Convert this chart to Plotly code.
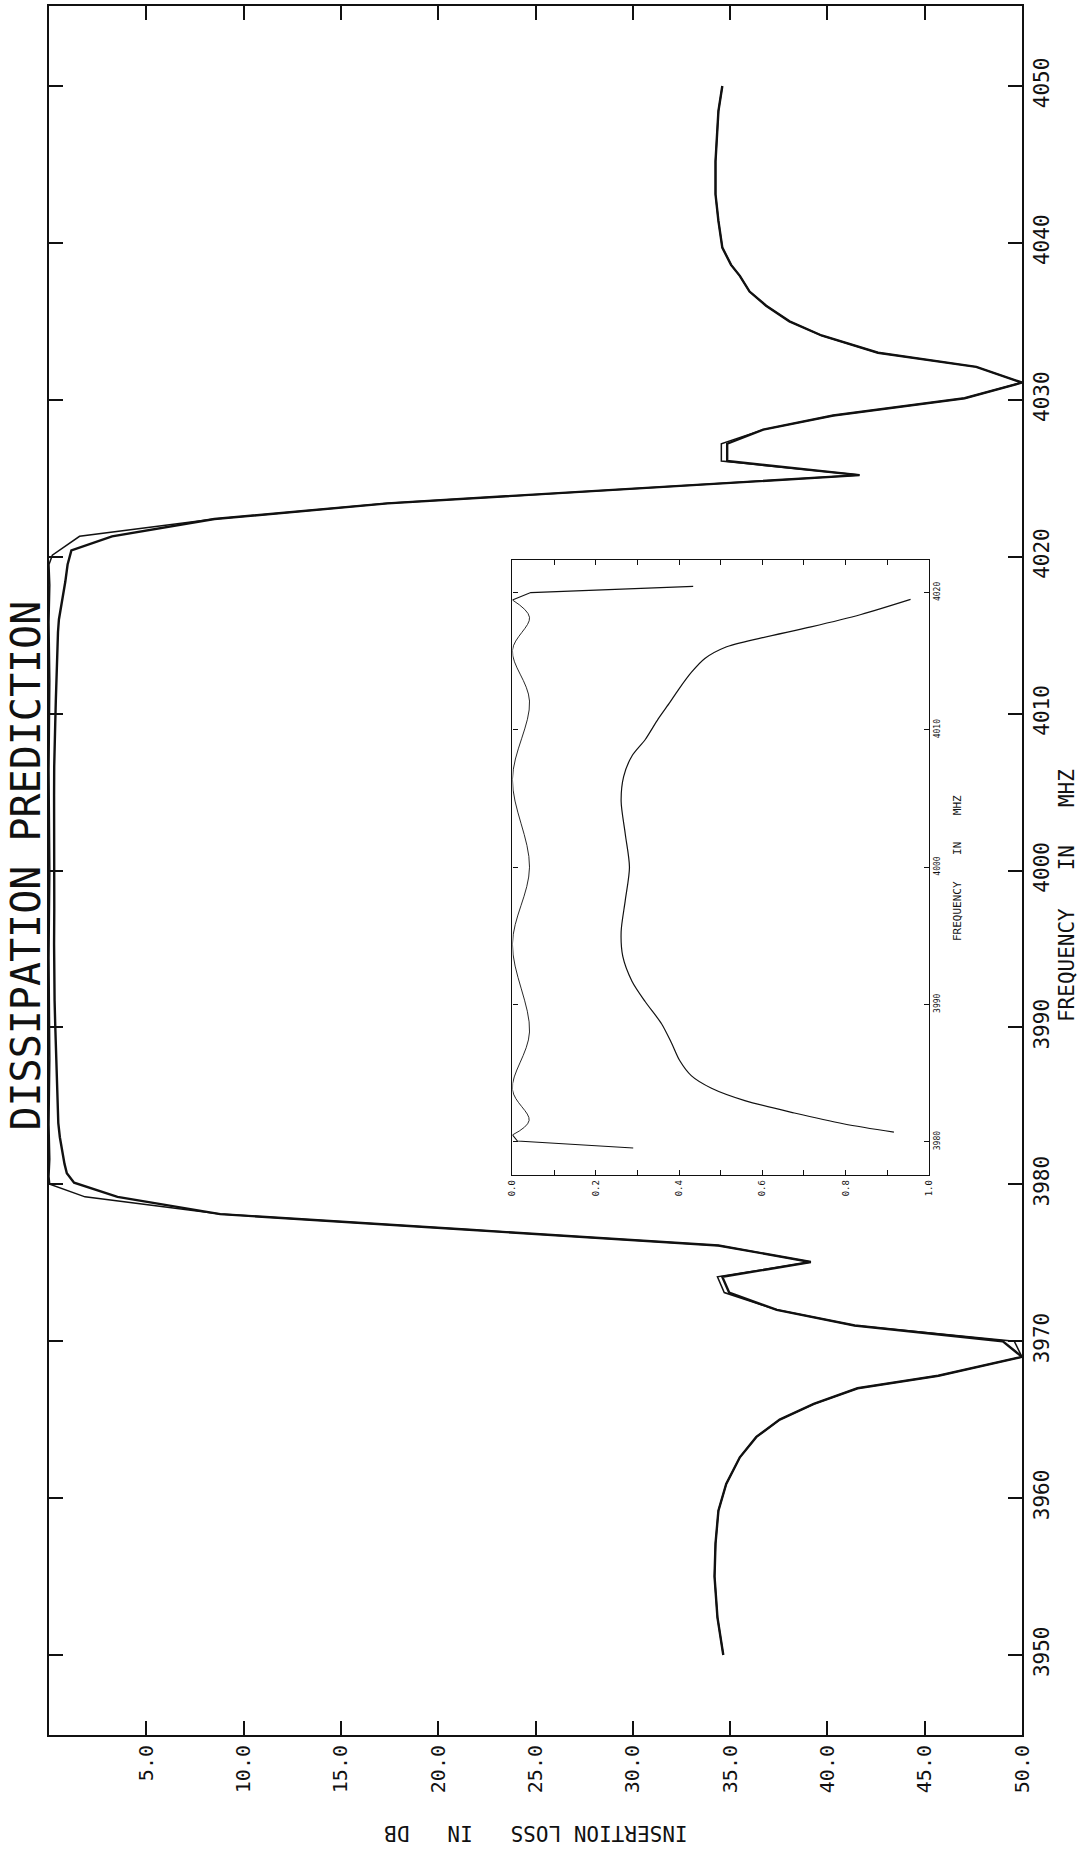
import plotly.graph_objects as go

# ---------------- main chart data (frequency in MHz, insertion loss in dB) ----------------
lossless_freq = [4050.0, 4048.4, 4045.2, 4043.1, 4041.4, 4039.7, 4038.6, 4037.9, 4036.9, 4036.0,
                 4035.0, 4034.1, 4033.0, 4032.1, 4031.1, 4030.1, 4029.0, 4028.1, 4027.2, 4026.1,
                 4025.2, 4023.4, 4022.4, 4021.3, 4020.1,
                 4019.5, 4018.2, 4015.8, 4012.1, 4006.4, 4000.0, 3994.4, 3988.0, 3983.8, 3981.6, 3980.5,
                 3980.0, 3979.2, 3978.1, 3977.1, 3976.1, 3975.05, 3974.1, 3973.1, 3972.0, 3971.0,
                 3970.0, 3969.0, 3967.8, 3967.0, 3966.0, 3965.0, 3963.9, 3962.6, 3960.9, 3959.2,
                 3957.1, 3955.0, 3952.4, 3950.0]
lossless_db = [34.6, 34.4, 34.25, 34.25, 34.4, 34.6, 35.05, 35.5, 36.0, 36.85,
               38.05, 39.7, 42.6, 47.65, 50.0, 47.05, 40.3, 36.7, 34.55, 34.55,
               41.65, 17.4, 8.5, 1.57, 0.17,
               0.0, 0.041, 0.0, 0.041, 0.0, 0.041, 0.0, 0.041, 0.0, 0.04, 0.0,
               0.04, 1.85, 8.8, 21.6, 34.4, 39.15, 34.35, 34.7, 37.4, 41.4,
               49.6, 50.0, 45.7, 41.55, 39.3, 37.55, 36.35, 35.5, 34.8, 34.4,
               34.25, 34.2, 34.35, 34.65]

dissip_freq = [4050.0, 4048.4, 4045.2, 4043.1, 4041.4, 4039.7, 4038.6, 4037.9, 4036.9, 4036.0,
               4035.0, 4034.1, 4033.0, 4032.1, 4031.1, 4030.1, 4029.0, 4028.1, 4027.2, 4026.1,
               4025.2, 4023.4, 4022.4, 4021.3, 4020.4,
               4019.5, 4018.4, 4017.5, 4016.7, 4016.0, 4015.2, 4014.2, 4012.9, 4012.0, 4010.8,
               4009.3, 4008.1, 4006.6, 4004.8, 4002.4, 4000.0, 3997.6, 3995.3, 3993.5, 3991.7,
               3990.2, 3988.6, 3987.2, 3985.9, 3984.8, 3983.9, 3983.0, 3982.1, 3981.3, 3980.7,
               3980.1, 3979.2, 3978.1, 3977.1, 3976.1, 3975.05, 3974.1, 3973.1, 3972.0, 3971.0,
               3970.0, 3969.0, 3967.8, 3967.0, 3966.0, 3965.0, 3963.9, 3962.6, 3960.9, 3959.2,
               3957.1, 3955.0, 3952.4, 3950.0]
dissip_db = [34.6, 34.4, 34.25, 34.25, 34.4, 34.6, 35.05, 35.5, 36.0, 36.85,
             38.05, 39.7, 42.6, 47.65, 50.0, 47.05, 40.3, 36.7, 34.85, 34.85,
             41.65, 17.4, 8.5, 3.24, 1.15,
             0.956, 0.837, 0.717, 0.598, 0.51, 0.462, 0.43, 0.398, 0.378, 0.35,
             0.319, 0.287, 0.267, 0.261, 0.271, 0.281, 0.271, 0.261, 0.265, 0.287,
             0.319, 0.358, 0.382, 0.402, 0.43, 0.478, 0.558, 0.677, 0.797, 0.916,
             1.29, 3.52, 8.8, 21.6, 34.4, 39.15, 34.6, 34.95, 37.4, 41.4,
             49.0, 50.0, 45.7, 41.55, 39.3, 37.55, 36.35, 35.5, 34.8, 34.4,
             34.25, 34.2, 34.35, 34.65]

loss_ticks = [5, 10, 15, 20, 25, 30, 35, 40, 45, 50]
loss_ticktext = ["5.0", "10.0", "15.0", "20.0", "25.0", "30.0", "35.0", "40.0", "45.0", "50.0"]
freq_ticks = [3950, 3960, 3970, 3980, 3990, 4000, 4010, 4020, 4030, 4040, 4050]

# ---------------- inset (passband detail) ----------------
inset_lossless_freq = [4020.45, 4020.0, 4019.46, 4018.2, 4015.8, 4012.1, 4006.4, 4000.0, 3994.4,
                       3988.0, 3983.8, 3981.55, 3980.5, 3980.06, 3979.55]
inset_lossless_db = [0.434, 0.044, 0.0, 0.041, 0.0, 0.041, 0.0, 0.041, 0.0,
                     0.041, 0.0, 0.04, 0.0, 0.012, 0.29]
inset_dissip_freq = dissip_freq[25:55]
inset_dissip_db = dissip_db[25:55]
inset_x_ticks = [0.0, 0.1, 0.2, 0.3, 0.4, 0.5, 0.6, 0.7, 0.8, 0.9, 1.0]
inset_x_ticktext = ["0.0", "", "0.2", "", "0.4", "", "0.6", "", "0.8", "", "1.0"]
inset_freq_ticks = [3980, 3990, 4000, 4010, 4020]

MONO = "DejaVu Sans Mono"

fig = go.Figure()
fig.add_trace(go.Scatter(x=lossless_db, y=lossless_freq, mode="lines",
                         line=dict(color="#111", width=1.5), xaxis="x", yaxis="y"))
fig.add_trace(go.Scatter(x=dissip_db, y=dissip_freq, mode="lines",
                         line=dict(color="#111", width=2.4), xaxis="x", yaxis="y"))

# inset traces
fig.add_trace(go.Scatter(x=inset_lossless_db[0:3], y=inset_lossless_freq[0:3], mode="lines",
                         line=dict(color="#111", width=1.1), xaxis="x2", yaxis="y2"))
fig.add_trace(go.Scatter(x=inset_lossless_db[2:-2], y=inset_lossless_freq[2:-2], mode="lines",
                         line=dict(color="#111", width=0.9, shape="spline", smoothing=1.0),
                         xaxis="x2", yaxis="y2"))
fig.add_trace(go.Scatter(x=inset_lossless_db[-3:], y=inset_lossless_freq[-3:], mode="lines",
                         line=dict(color="#111", width=1.1), xaxis="x2", yaxis="y2"))
fig.add_trace(go.Scatter(x=inset_dissip_db, y=inset_dissip_freq, mode="lines",
                         line=dict(color="#111", width=1.2, shape="spline", smoothing=0.8),
                         xaxis="x2", yaxis="y2"))

axis_common = dict(showgrid=False, zeroline=False, showline=True, linecolor="#111",
                   mirror="allticks", ticks="inside", tickcolor="#111")

fig.update_layout(
    width=1083, height=1849,
    margin=dict(l=49, r=60.5, t=4, b=114),
    paper_bgcolor="white", plot_bgcolor="white",
    showlegend=False, hovermode=False,
    xaxis=dict(domain=[0, 1], range=[0, 50], tickvals=loss_ticks, ticktext=loss_ticktext,
               tickangle=-90, ticklen=14, tickwidth=2, linewidth=2,
               tickfont=dict(family=MONO, size=20, color="#111"), anchor="y", **axis_common),
    yaxis=dict(domain=[0, 1], range=[3944.9, 4055.1], tickvals=freq_ticks,
               ticktext=[str(v) for v in freq_ticks], side="right", tickangle=-90,
               ticklen=14, tickwidth=2, linewidth=2,
               tickfont=dict(family=MONO, size=21, color="#111"), anchor="x", **axis_common),
    xaxis2=dict(domain=[0.4763, 0.9043], range=[0, 1], tickvals=inset_x_ticks,
                ticktext=inset_x_ticktext, tickangle=-90, ticklen=5, tickwidth=1, linewidth=1.3,
                tickfont=dict(family=MONO, size=9, color="#111"), anchor="y2", **axis_common),
    yaxis2=dict(domain=[0.3237, 0.6798], range=[3977.56, 4022.4], tickvals=inset_freq_ticks,
                ticktext=[str(v) for v in inset_freq_ticks], side="right", tickangle=-90,
                ticklen=5, tickwidth=1, linewidth=1.3,
                tickfont=dict(family=MONO, size=8, color="#111"), anchor="x2", **axis_common),
    annotations=[
        dict(text="DISSIPATION PREDICTION", xref="paper", yref="paper", x=-0.0241, y=0.5026,
             textangle=-90, showarrow=False, xanchor="center", yanchor="middle",
             font=dict(family=MONO, size=40, color="#111")),
        dict(text="FREQUENCY   IN   MHZ", xref="paper", yref="paper", x=1.0457, y=0.4855,
             textangle=-90, showarrow=False, xanchor="center", yanchor="middle",
             font=dict(family=MONO, size=21, color="#111")),
        dict(text="INSERTION LOSS   IN   DB", xref="paper", yref="paper", x=0.5003, y=-0.0566,
             textangle=180, showarrow=False, xanchor="center", yanchor="middle",
             font=dict(family=MONO, size=21, color="#111")),
        dict(text="FREQUENCY    IN    MHZ", xref="paper", yref="paper", x=0.9337, y=0.5017,
             textangle=-90, showarrow=False, xanchor="center", yanchor="middle",
             font=dict(family=MONO, size=11, color="#111")),
    ],
)

fig.write_html("out.html")
